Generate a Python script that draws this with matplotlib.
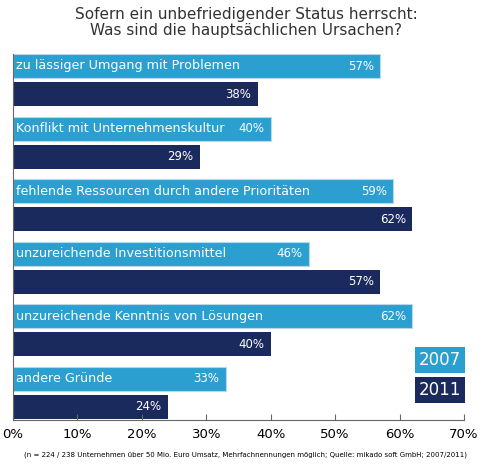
import numpy as np
import matplotlib.pyplot as plt

labels = ["zu lässiger Umgang mit Problemen", "Konflikt mit Unternehmenskultur",
          "fehlende Ressourcen durch andere Prioritäten", "unzureichende Investitionsmittel",
          "unzureichende Kenntnis von Lösungen", "andere Gründe"]
v2007 = [57, 40, 59, 46, 62, 33]
v2011 = [38, 29, 62, 57, 40, 24]

light = "#2b9fd0"
dark = "#1b2a5c"

fig = plt.figure(figsize=(4.92, 4.66), dpi=100)
ax = fig.add_axes([13/492, 1-420/466, 451/492, 366/466])

idx = np.arange(len(labels))
y_light = 66 + 62.6*idx
y_dark = y_light + 28
ax.barh(y_light, v2007, height=24, color=light, edgecolor="#b8d8ea", linewidth=0.8)
ax.barh(y_dark, v2011, height=24, color=dark)
for yl, yd, a, b, lab in zip(y_light, y_dark, v2007, v2011, labels):
    ax.text(0.5, yl, lab, color="white", va="center", ha="left", fontsize=9.2)
    ax.text(a-1, yl, f"{a}%", color="white", va="center", ha="right", fontsize=8.5)
    ax.text(b-1, yd, f"{b}%", color="white", va="center", ha="right", fontsize=8.5)

ax.set_xlim(0, 70)
ax.set_ylim(420, 54)
ax.set_xticks(range(0, 71, 10))
ax.set_xticklabels([f"{t}%" for t in range(0, 71, 10)], fontsize=9.5)
ax.set_yticks([])
for s in ["top", "right"]:
    ax.spines[s].set_visible(False)
ax.spines["left"].set_color("#666666")
ax.spines["bottom"].set_color("#666666")
ax.tick_params(axis="x", direction="in", length=4, color="#666666", pad=6)

fig.text(0.5, 0.985, "Sofern ein unbefriedigender Status herrscht:\nWas sind die hauptsächlichen Ursachen?",
         ha="center", va="top", fontsize=11, color="#333333", linespacing=1.1)
fig.text(440/492, 1-360/466, "2007", ha="center", va="center", fontsize=12, color="white",
         bbox=dict(boxstyle="square,pad=0.25", fc=light, ec="none"))
fig.text(440/492, 1-390/466, "2011", ha="center", va="center", fontsize=12, color="white",
         bbox=dict(boxstyle="square,pad=0.25", fc=dark, ec="none"))
fig.text(0.5, 1-455/466, "(n = 224 / 238 Unternehmen über 50 Mio. Euro Umsatz, Mehrfachnennungen möglich; Quelle: mikado soft GmbH; 2007/2011)",
         ha="center", va="center", fontsize=5)

fig.savefig("out.png", dpi=100)
